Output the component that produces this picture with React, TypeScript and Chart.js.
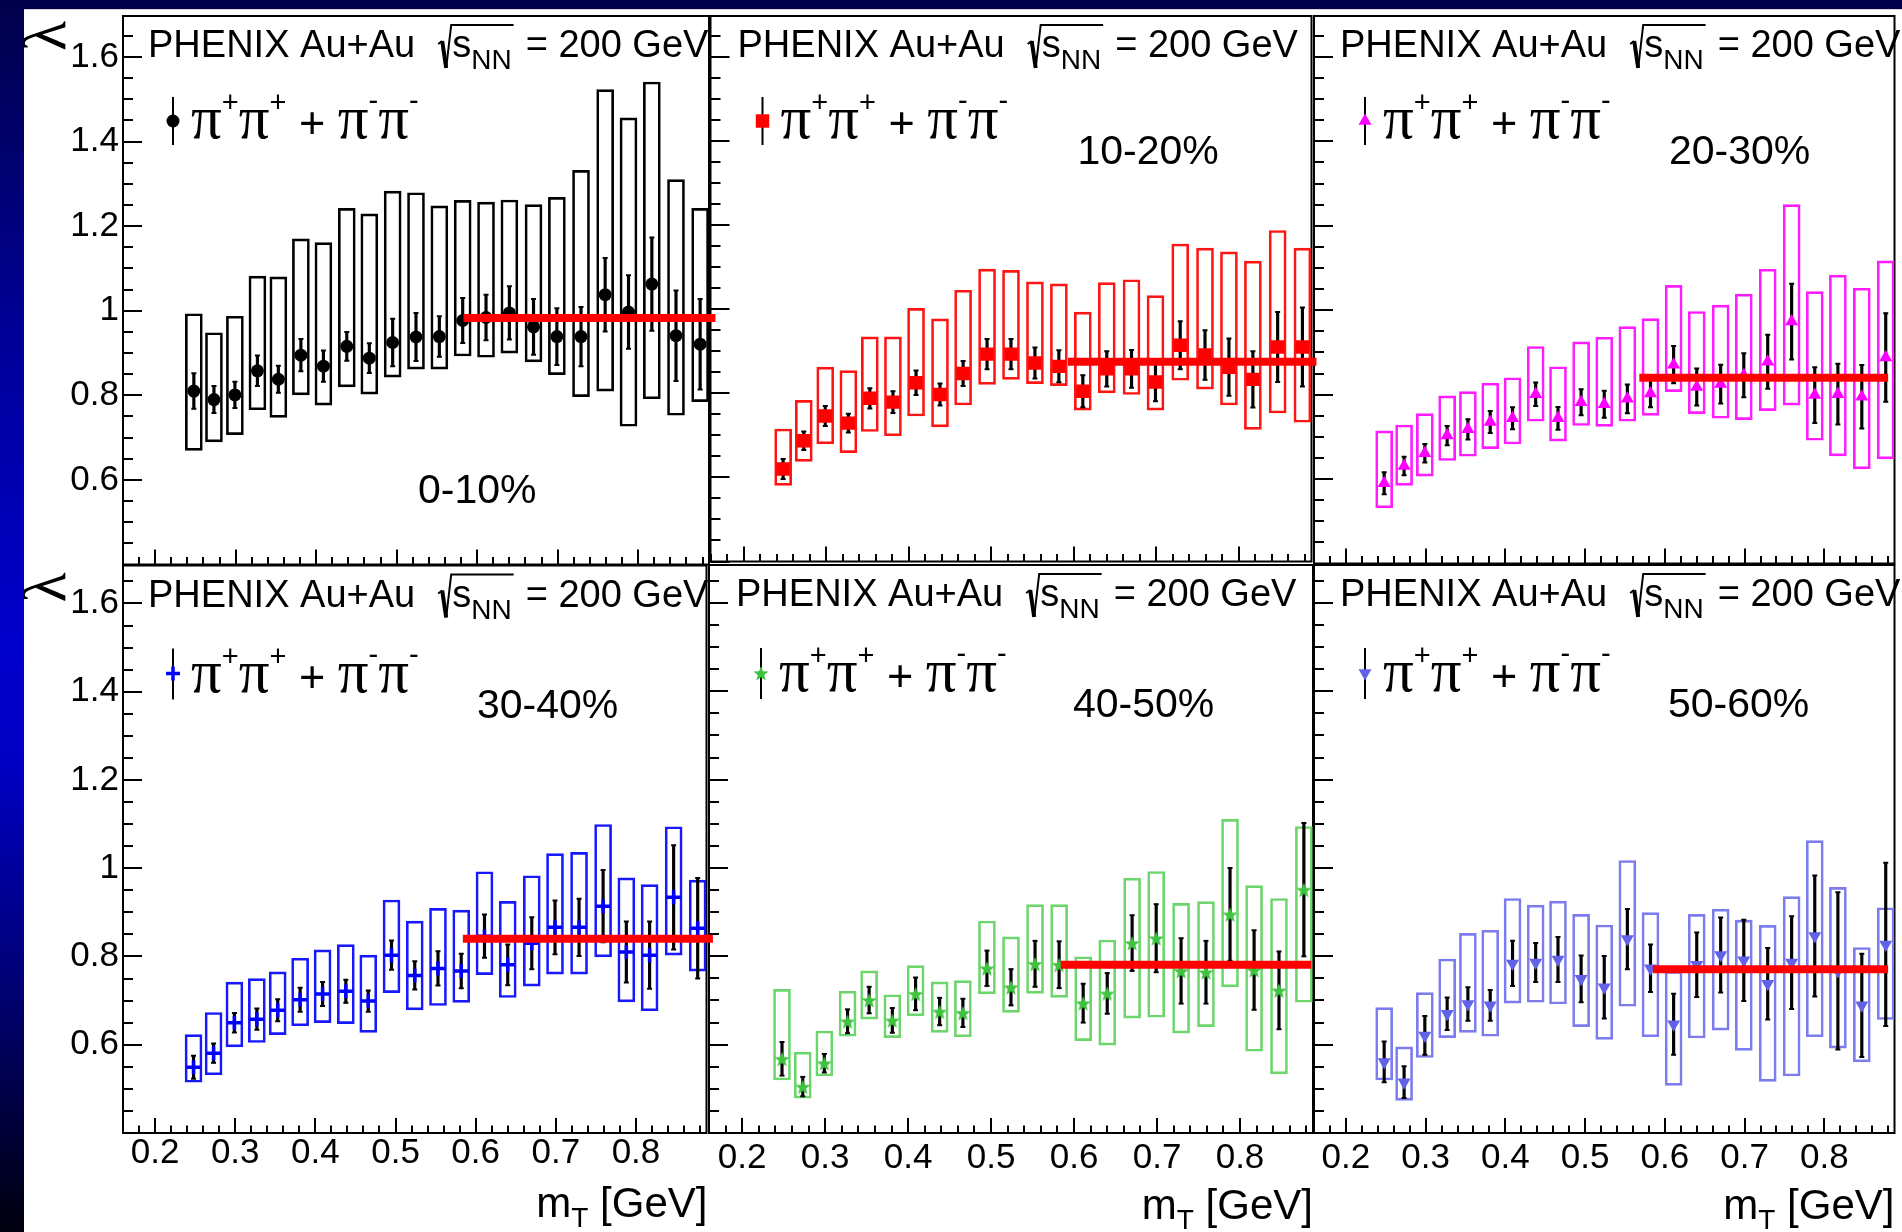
import React, { useEffect, useRef } from 'react';
import { Chart, registerables } from 'chart.js';

Chart.register(...registerables);
Chart.defaults.font.family = '"Liberation Sans", Arial, sans-serif';

// transverse-mass bin centres [GeV], shared by all centrality classes
const MT_GEV = [0.248, 0.273, 0.299, 0.327, 0.353, 0.381, 0.409, 0.438, 0.466, 0.495, 0.524, 0.553,
  0.582, 0.611, 0.640, 0.670, 0.699, 0.729, 0.759, 0.788, 0.817, 0.847, 0.877];

// 0-10 %
const LAMBDA_0_10 = [0.810, 0.790, 0.801, 0.858, 0.838, 0.895, 0.869, 0.916, 0.888, 0.925, 0.938, 0.939,
  0.977, 0.984, 0.995, 0.962, 0.939, 0.939, 1.038, 0.997, 1.063, 0.941, 0.921];
const STAT_0_10 = [0.042, 0.032, 0.031, 0.036, 0.032, 0.038, 0.037, 0.034, 0.035, 0.056, 0.057, 0.048,
  0.053, 0.054, 0.063, 0.066, 0.067, 0.070, 0.087, 0.087, 0.110, 0.107, 0.107];
const SYS_LOW_0_10 = [0.670, 0.690, 0.707, 0.766, 0.748, 0.801, 0.777, 0.820, 0.803, 0.843, 0.862, 0.862,
  0.893, 0.890, 0.900, 0.879, 0.849, 0.797, 0.810, 0.727, 0.792, 0.753, 0.785];
const SYS_HIGH_0_10 = [0.993, 0.948, 0.987, 1.082, 1.080, 1.170, 1.161, 1.242, 1.229, 1.283, 1.279, 1.248,
  1.261, 1.257, 1.262, 1.251, 1.268, 1.332, 1.523, 1.456, 1.541, 1.310, 1.242];

// 10-20 %
const LAMBDA_10_20 = [0.620, 0.687, 0.746, 0.729, 0.788, 0.779, 0.825, 0.797, 0.847, 0.893, 0.893, 0.872,
  0.864, 0.805, 0.858, 0.858, 0.827, 0.914, 0.891, 0.862, 0.833, 0.910, 0.910];
const STAT_10_20 = [0.024, 0.022, 0.024, 0.022, 0.024, 0.026, 0.029, 0.026, 0.030, 0.036, 0.036, 0.037,
  0.038, 0.038, 0.042, 0.045, 0.046, 0.057, 0.059, 0.068, 0.067, 0.083, 0.094];
const SYS_LOW_10_20 = [0.581, 0.638, 0.680, 0.659, 0.709, 0.699, 0.746, 0.720, 0.772, 0.821, 0.833, 0.823,
  0.818, 0.760, 0.801, 0.797, 0.760, 0.831, 0.810, 0.772, 0.714, 0.753, 0.731];
const SYS_HIGH_10_20 = [0.715, 0.783, 0.862, 0.854, 0.934, 0.934, 1.002, 0.977, 1.045, 1.095, 1.092, 1.065,
  1.060, 0.993, 1.063, 1.070, 1.032, 1.155, 1.145, 1.136, 1.114, 1.187, 1.145];

// 20-30 %
const LAMBDA_20_30 = [0.590, 0.631, 0.661, 0.703, 0.718, 0.735, 0.744, 0.801, 0.744, 0.782, 0.777, 0.790,
  0.803, 0.871, 0.818, 0.825, 0.846, 0.878, 0.973, 0.799, 0.801, 0.795, 0.888];
const STAT_20_30 = [0.026, 0.022, 0.022, 0.023, 0.024, 0.026, 0.026, 0.028, 0.027, 0.031, 0.032, 0.034,
  0.033, 0.044, 0.044, 0.046, 0.052, 0.064, 0.090, 0.066, 0.072, 0.075, 0.105];
const SYS_LOW_20_30 = [0.532, 0.585, 0.607, 0.644, 0.654, 0.672, 0.683, 0.737, 0.690, 0.727, 0.725, 0.737,
  0.751, 0.807, 0.755, 0.744, 0.741, 0.762, 0.775, 0.692, 0.655, 0.624, 0.648];
const SYS_HIGH_20_30 = [0.714, 0.728, 0.755, 0.797, 0.807, 0.827, 0.840, 0.914, 0.866, 0.925, 0.936, 0.961,
  0.980, 1.059, 0.997, 1.012, 1.038, 1.097, 1.250, 1.044, 1.083, 1.052, 1.117];

// 30-40 %
const LAMBDA_30_40 = [0.549, 0.581, 0.650, 0.658, 0.678, 0.702, 0.715, 0.721, 0.699, 0.803, 0.757, 0.773,
  0.767, 0.846, 0.781, 0.830, 0.866, 0.866, 0.914, 0.810, 0.803, 0.934, 0.864];
const STAT_30_40 = [0.026, 0.022, 0.022, 0.024, 0.025, 0.027, 0.027, 0.026, 0.024, 0.033, 0.032, 0.039,
  0.039, 0.049, 0.046, 0.059, 0.061, 0.065, 0.082, 0.069, 0.076, 0.118, 0.114];
const SYS_LOW_30_40 = [0.515, 0.532, 0.595, 0.605, 0.623, 0.643, 0.650, 0.648, 0.628, 0.718, 0.679, 0.689,
  0.696, 0.759, 0.707, 0.733, 0.760, 0.760, 0.799, 0.697, 0.677, 0.803, 0.767];
const SYS_HIGH_30_40 = [0.623, 0.673, 0.742, 0.750, 0.765, 0.796, 0.815, 0.827, 0.803, 0.928, 0.880, 0.909,
  0.905, 0.992, 0.925, 0.983, 1.033, 1.036, 1.099, 0.978, 0.963, 1.094, 0.973];

// 40-50 %
const LAMBDA_40_50 = [0.568, 0.505, 0.558, 0.653, 0.701, 0.655, 0.715, 0.675, 0.672, 0.773, 0.730, 0.783,
  0.781, 0.694, 0.716, 0.830, 0.841, 0.767, 0.764, 0.895, 0.769, 0.723, 0.951];
const STAT_40_50 = [0.038, 0.022, 0.021, 0.027, 0.030, 0.028, 0.037, 0.031, 0.032, 0.040, 0.041, 0.052,
  0.053, 0.044, 0.046, 0.063, 0.077, 0.074, 0.071, 0.105, 0.090, 0.088, 0.151];
const SYS_LOW_40_50 = [0.520, 0.479, 0.529, 0.619, 0.658, 0.616, 0.665, 0.628, 0.618, 0.715, 0.673, 0.716,
  0.707, 0.609, 0.599, 0.660, 0.662, 0.626, 0.641, 0.731, 0.585, 0.534, 0.696];
const SYS_HIGH_40_50 = [0.725, 0.583, 0.631, 0.721, 0.767, 0.713, 0.779, 0.742, 0.745, 0.880, 0.844, 0.917,
  0.917, 0.799, 0.837, 0.977, 0.992, 0.920, 0.924, 1.110, 0.960, 0.931, 1.094];

// 50-60 %
const LAMBDA_50_60 = [0.561, 0.515, 0.621, 0.670, 0.692, 0.689, 0.784, 0.786, 0.793, 0.749, 0.730, 0.839,
  0.773, 0.646, 0.781, 0.803, 0.791, 0.738, 0.786, 0.846, 0.767, 0.689, 0.827];
const STAT_50_60 = [0.046, 0.036, 0.044, 0.037, 0.038, 0.035, 0.051, 0.044, 0.051, 0.053, 0.071, 0.068,
  0.054, 0.069, 0.073, 0.085, 0.092, 0.081, 0.105, 0.137, 0.178, 0.117, 0.185];
const SYS_LOW_50_60 = [0.520, 0.474, 0.571, 0.616, 0.628, 0.619, 0.694, 0.696, 0.692, 0.641, 0.612, 0.687,
  0.618, 0.508, 0.615, 0.633, 0.587, 0.517, 0.529, 0.618, 0.592, 0.561, 0.657];
const SYS_HIGH_50_60 = [0.684, 0.595, 0.718, 0.794, 0.852, 0.859, 0.931, 0.916, 0.925, 0.895, 0.871, 1.017,
  0.899, 0.766, 0.895, 0.907, 0.882, 0.870, 0.935, 1.062, 0.956, 0.820, 0.910];

const CENTRALITY = ['0-10%', '10-20%', '20-30%', '30-40%', '40-50%', '50-60%'];

// constant fits of lambda over the high-mT range
const FIT_LAMBDA = [0.983, 0.875, 0.840, 0.840, 0.781, 0.771];
const FIT_MT_FROM = [0.583, 0.593, 0.568, 0.584, 0.584, 0.585];
const FIT_MT_TO = [0.896, 0.894, 0.880, 0.896, 0.886, 0.880];

const X_TICK_LABELS = [0.2, 0.3, 0.4, 0.5, 0.6, 0.7, 0.8];
const Y_TICK_LABELS = [0.6, 0.8, 1, 1.2, 1.4, 1.6];

const SERIES = [
  { lambda: LAMBDA_0_10, stat: STAT_0_10, sysLow: SYS_LOW_0_10, sysHigh: SYS_HIGH_0_10 },
  { lambda: LAMBDA_10_20, stat: STAT_10_20, sysLow: SYS_LOW_10_20, sysHigh: SYS_HIGH_10_20 },
  { lambda: LAMBDA_20_30, stat: STAT_20_30, sysLow: SYS_LOW_20_30, sysHigh: SYS_HIGH_20_30 },
  { lambda: LAMBDA_30_40, stat: STAT_30_40, sysLow: SYS_LOW_30_40, sysHigh: SYS_HIGH_30_40 },
  { lambda: LAMBDA_40_50, stat: STAT_40_50, sysLow: SYS_LOW_40_50, sysHigh: SYS_HIGH_40_50 },
  { lambda: LAMBDA_50_60, stat: STAT_50_60, sysLow: SYS_LOW_50_60, sysHigh: SYS_HIGH_50_60 },
];

// ---- presentation ----
const STYLE = [
  { marker: 'circle', color: '#000000', box: '#000000', radius: 6.5 },
  { marker: 'rect', color: '#ff0000', box: '#ff1414', radius: 9.5 },
  { marker: 'triangle', color: '#ff00ff', box: '#ff1cff', radius: 7.5 },
  { marker: 'cross', color: '#0000ff', box: '#1818ff', radius: 7 },
  { marker: 'star', color: '#3fc23f', box: '#6cd66c', radius: 8 },
  { marker: 'triangleDown', color: '#6262e6', box: '#7c7cee', radius: 7.5 },
];

type Frame = { l: number; t: number; r: number; b: number };
const FRAMES: Frame[] = [
  { l: 123, t: 16, r: 709, b: 565 },
  { l: 709, t: 16, r: 1313, b: 565 },
  { l: 1314, t: 16, r: 1899, b: 565 },
  { l: 123, t: 565, r: 709, b: 1133 },
  { l: 709, t: 565, r: 1313, b: 1133 },
  { l: 1314, t: 565, r: 1899, b: 1133 },
];
const Y_MAX = [1.697, 1.686];
const X_MIN = 0.16;
const X_MAX = 0.888;

const DECOR = [
  { titleDx: 25, legendDx: 50, textDx: 68, labelDx: 295, labelDy: 487 },
  { titleDx: 27, legendDx: 52, textDx: 70, labelDx: 367, labelDy: 148 },
  { titleDx: 26, legendDx: 51, textDx: 69, labelDx: 355, labelDy: 148 },
  { titleDx: 25, legendDx: 50, textDx: 68, labelDx: 354, labelDy: 152 },
  { titleDx: 27, legendDx: 52, textDx: 70, labelDx: 364, labelDy: 152 },
  { titleDx: 26, legendDx: 51, textDx: 69, labelDx: 354, labelDy: 152 },
];

const SANS = '"Liberation Sans", Arial, sans-serif';
const SERIF = '"Liberation Serif", "DejaVu Serif", serif';

const near = (a: number, b: number) => Math.abs(a - b) < 1e-6;
const fmt = (v: number) => String(Math.round(v * 10) / 10);

function canvasBox(i: number) {
  const f = FRAMES[i];
  const ml = i % 3 === 0 ? f.l - 24 : 8;
  const mr = i % 3 === 2 ? 1902 - f.r : 8;
  const mt = 10;
  const mb = i >= 3 ? 1232 - f.b : 6;
  return { x: f.l - ml, y: f.t - mt, w: f.r - f.l + ml + mr, h: f.b - f.t + mt + mb, ml, mr, mt, mb };
}

function makeStar(size: number, color: string) {
  const c = document.createElement('canvas');
  c.width = size;
  c.height = size;
  const g = c.getContext('2d')!;
  g.fillStyle = color;
  g.beginPath();
  for (let k = 0; k < 10; k++) {
    const r = k % 2 ? size * 0.21 : size * 0.5;
    const a = -Math.PI / 2 + (k * Math.PI) / 5;
    const px = size / 2 + r * Math.cos(a);
    const py = size / 2 + 1 + r * Math.sin(a);
    if (k === 0) g.moveTo(px, py);
    else g.lineTo(px, py);
  }
  g.closePath();
  g.fill();
  return c;
}

function drawMarker(ctx: CanvasRenderingContext2D, st: any, x: number, y: number, star: any) {
  const r = st.radius;
  ctx.save();
  ctx.fillStyle = st.color;
  ctx.strokeStyle = st.color;
  ctx.beginPath();
  if (st.marker === 'circle') {
    ctx.arc(x, y, r, 0, Math.PI * 2);
    ctx.fill();
  } else if (st.marker === 'rect') {
    const s = r * Math.SQRT1_2;
    ctx.fillRect(x - s, y - s, 2 * s, 2 * s);
  } else if (st.marker === 'triangle' || st.marker === 'triangleDown') {
    const sgn = st.marker === 'triangle' ? 1 : -1;
    ctx.moveTo(x, y - sgn * r);
    ctx.lineTo(x + r * 0.866, y + sgn * r * 0.5);
    ctx.lineTo(x - r * 0.866, y + sgn * r * 0.5);
    ctx.closePath();
    ctx.fill();
  } else if (st.marker === 'cross') {
    ctx.lineWidth = 3.5;
    ctx.moveTo(x - r, y);
    ctx.lineTo(x + r, y);
    ctx.moveTo(x, y - r);
    ctx.lineTo(x, y + r);
    ctx.stroke();
  } else if (st.marker === 'star') {
    ctx.drawImage(star, x - star.width / 2, y - star.height / 2);
  }
  ctx.restore();
}

function drawTitle(ctx: CanvasRenderingContext2D, x: number, y: number) {
  const big = `38px ${SANS}`;
  const sub = `28px ${SANS}`;
  ctx.font = big;
  ctx.fillText('PHENIX Au+Au', x, y);
  let cx = x + ctx.measureText('PHENIX Au+Au').width + 24;
  const sW = ctx.measureText('s').width;
  ctx.font = sub;
  const nnW = ctx.measureText('NN').width;
  // radical with overbar
  ctx.save();
  ctx.lineJoin = 'miter';
  ctx.lineWidth = 2;
  ctx.beginPath();
  ctx.moveTo(cx - 1, y - 13);
  ctx.lineTo(cx + 3, y - 16);
  ctx.stroke();
  ctx.lineWidth = 4;
  ctx.beginPath();
  ctx.moveTo(cx + 3, y - 16);
  ctx.lineTo(cx + 7, y + 11);
  ctx.stroke();
  ctx.lineWidth = 2;
  ctx.beginPath();
  ctx.moveTo(cx + 7, y + 11);
  ctx.lineTo(cx + 12, y - 32);
  ctx.lineTo(cx + 13 + sW + nnW + 2, y - 32);
  ctx.stroke();
  ctx.restore();
  cx += 13;
  ctx.font = big;
  ctx.fillText('s', cx, y);
  cx += sW;
  ctx.font = sub;
  ctx.fillText('NN', cx, y + 12);
  cx += nnW + 14;
  ctx.font = big;
  ctx.fillText('= 200 GeV', cx, y);
}

function drawPionText(ctx: CanvasRenderingContext2D, x: number, y: number) {
  const pi = `61px ${SERIF}`;
  const sup = `29px ${SANS}`;
  const main = `45px ${SANS}`;
  const parts: [string, string, number][] = [
    ['π', pi, 0], ['+', sup, -26], ['π', pi, 0], ['+', sup, -26], [' + ', main, 0],
    ['π', pi, 0], ['-', sup, -28], ['π', pi, 0], ['-', sup, -28],
  ];
  let cx = x;
  for (const [t, f, dy] of parts) {
    ctx.font = f;
    ctx.fillText(t, cx, y + dy);
    cx += ctx.measureText(t).width;
  }
}

function drawMtTitle(ctx: CanvasRenderingContext2D, xRight: number, y: number) {
  const big = `42px ${SANS}`;
  const sub = `28px ${SANS}`;
  ctx.font = big;
  const wm = ctx.measureText('m').width;
  const wr = ctx.measureText(' [GeV]').width;
  ctx.font = sub;
  const wt = ctx.measureText('T').width;
  let x = xRight - (wm + wt + wr);
  ctx.font = big;
  ctx.fillText('m', x, y);
  x += wm;
  ctx.font = sub;
  ctx.fillText('T', x, y + 10);
  x += wt;
  ctx.font = big;
  ctx.fillText(' [GeV]', x, y);
}

function decorPlugin(i: number, star: any) {
  const row = i >= 3 ? 1 : 0;
  const col = i % 3;
  const st = STYLE[i];
  const d = DECOR[i];
  return {
    id: 'panelDecor',
    beforeDatasetsDraw(chart: any) {
      const ctx: CanvasRenderingContext2D = chart.ctx;
      const { left, top, right, bottom } = chart.chartArea;
      const xs = chart.scales.x;
      const ys = chart.scales.y;
      ctx.save();
      ctx.strokeStyle = '#000';
      ctx.lineWidth = 2;
      ctx.beginPath();
      for (const t of xs.ticks) {
        const px = Math.round(xs.getPixelForValue(t.value));
        const major = near(t.value * 10, Math.round(t.value * 10));
        ctx.moveTo(px, bottom);
        ctx.lineTo(px, bottom - (major ? 15 : 7.5));
      }
      for (const t of ys.ticks) {
        const py = Math.round(ys.getPixelForValue(t.value));
        const major = near(t.value * 5, Math.round(t.value * 5));
        ctx.moveTo(left, py);
        ctx.lineTo(left + (major ? 19 : 10), py);
      }
      ctx.stroke();
      ctx.strokeRect(left, top, right - left, bottom - top);
      ctx.restore();
    },
    afterDatasetsDraw(chart: any) {
      const ctx: CanvasRenderingContext2D = chart.ctx;
      const { left, top, right, bottom } = chart.chartArea;
      ctx.save();
      ctx.fillStyle = '#000';
      ctx.strokeStyle = '#000';
      ctx.textAlign = 'left';
      ctx.textBaseline = 'alphabetic';

      drawTitle(ctx, left + d.titleDx, top + 41);

      // legend entry: marker with its error bar, then the pair label
      const my = top + (row ? 108 : 105);
      ctx.lineWidth = 2;
      ctx.beginPath();
      ctx.moveTo(left + d.legendDx, top + (row ? 83 : 81));
      ctx.lineTo(left + d.legendDx, top + (row ? 134 : 129));
      ctx.stroke();
      drawMarker(ctx, st, left + d.legendDx, my, star);
      ctx.fillStyle = '#000';
      drawPionText(ctx, left + d.textDx, top + (row ? 126 : 122));

      ctx.font = `41px ${SANS}`;
      ctx.fillText(CENTRALITY[i], left + d.labelDx, top + d.labelDy);

      if (col === 0) {
        ctx.save();
        ctx.translate(left - 74, top + (row ? 22 : 20));
        ctx.rotate(-Math.PI / 2);
        ctx.font = `62px ${SERIF}`;
        ctx.textAlign = 'center';
        ctx.textBaseline = 'middle';
        ctx.fillText('λ', 0, 0);
        ctx.restore();
      }
      if (row === 1) {
        drawMtTitle(ctx, right + (col === 0 ? 1 : 0), bottom + (col === 0 ? 84 : 86));
      }
      ctx.restore();
    },
  };
}

function buildConfig(i: number): any {
  const s = SERIES[i];
  const st = STYLE[i];
  const g = canvasBox(i);
  const row = i >= 3 ? 1 : 0;
  const col = i % 3;
  const star = makeStar(16, STYLE[4].color);

  const boxes = MT_GEV.map((x, k) => ({ x, y: [s.sysLow[k], s.sysHigh[k]] }));
  const statBars = MT_GEV.map((x, k) => ({ x, y: [s.lambda[k] - s.stat[k], s.lambda[k] + s.stat[k]] }));
  const caps = [
    ...MT_GEV.map((x, k) => ({ x, y: s.lambda[k] - s.stat[k] })),
    ...MT_GEV.map((x, k) => ({ x, y: s.lambda[k] + s.stat[k] })),
  ];
  const points = MT_GEV.map((x, k) => ({ x, y: s.lambda[k] }));
  const fit = [
    { x: FIT_MT_FROM[i], y: FIT_LAMBDA[i] },
    { x: FIT_MT_TO[i], y: FIT_LAMBDA[i] },
  ];

  const pointStyle = st.marker === 'star' ? star : st.marker === 'triangleDown' ? 'triangle' : st.marker;

  return {
    type: 'scatter',
    data: {
      datasets: [
        {
          type: 'line', data: fit, borderColor: '#ff0000', borderWidth: 8, pointRadius: 0,
          borderCapStyle: 'butt', clip: false, order: 0,
        },
        {
          type: 'scatter', data: points, pointStyle, pointRadius: st.radius,
          pointRotation: st.marker === 'triangleDown' ? 180 : 0,
          pointBackgroundColor: st.color, pointBorderColor: st.color,
          pointBorderWidth: st.marker === 'cross' ? 3.5 : 0, order: 1,
        },
        {
          type: 'scatter', data: caps, pointStyle: 'line', pointRadius: 2.5,
          pointBorderColor: '#000', pointBorderWidth: 2, order: 2,
        },
        {
          type: 'bar', data: statBars, backgroundColor: '#000', borderWidth: 0,
          barThickness: 2.5, grouped: false, order: 3,
        },
        {
          type: 'bar', data: boxes, backgroundColor: 'rgba(0,0,0,0)', borderColor: st.box,
          borderWidth: 2, borderSkipped: false, barThickness: 17, grouped: false, order: 4,
        },
      ],
    },
    options: {
      animation: false,
      responsive: false,
      devicePixelRatio: 1,
      events: [],
      layout: { padding: { left: 0, top: g.mt, right: g.mr, bottom: 0 } },
      plugins: { legend: { display: false }, tooltip: { enabled: false }, title: { display: false } },
      scales: {
        x: {
          type: 'linear', min: X_MIN, max: X_MAX, offset: false,
          grid: { display: false, drawTicks: false },
          border: { display: false },
          ticks: {
            display: row === 1, stepSize: 0.02, autoSkip: false, includeBounds: false,
            maxRotation: 0, minRotation: 0, color: '#000',
            padding: col === 0 ? 2.5 : 8,
            font: { family: SANS, size: 35, lineHeight: 1 },
            callback: (v: any) => (X_TICK_LABELS.some((t) => near(t, Number(v))) ? fmt(Number(v)) : ''),
          },
          afterFit: (sc: any) => {
            sc.height = g.mb;
            sc.paddingLeft = 0;
            sc.paddingRight = 0;
          },
        },
        y: {
          type: 'linear', min: 0.4, max: Y_MAX[row], beginAtZero: false,
          grid: { display: false, drawTicks: false },
          border: { display: false },
          ticks: {
            display: col === 0, stepSize: 0.05, autoSkip: false, includeBounds: false, color: '#000',
            padding: 4,
            font: { family: SANS, size: 35, lineHeight: 1 },
            callback: (v: any) => (Y_TICK_LABELS.some((t) => near(t, Number(v))) ? fmt(Number(v)) : ''),
          },
          afterFit: (sc: any) => {
            sc.width = g.ml;
            sc.paddingTop = 0;
            sc.paddingBottom = 0;
          },
        },
      },
    },
    plugins: [decorPlugin(i, star)],
  };
}

function Panel({ index }: { index: number }) {
  const ref = useRef<HTMLCanvasElement>(null);
  useEffect(() => {
    const chart = new Chart(ref.current as HTMLCanvasElement, buildConfig(index));
    return () => chart.destroy();
  }, [index]);
  const g = canvasBox(index);
  return (
    <canvas
      ref={ref}
      width={g.w}
      height={g.h}
      style={{ position: 'absolute', left: g.x, top: g.y, width: g.w, height: g.h, zIndex: 20 - index }}
    />
  );
}

export default function App() {
  return (
    <div
      style={{
        position: 'fixed', left: 0, top: 0, width: 1902, height: 1232, overflow: 'hidden',
        background: 'linear-gradient(180deg, #00004a 0%, #00009a 28%, #0000cc 52%, #0000c4 62%, #00006a 82%, #00000e 100%)',
      }}
    >
      <div style={{ position: 'absolute', left: 24, top: 9, right: 0, bottom: 0, background: '#ffffff', borderTop: '1px solid #d4d4d8' }} />
      {[0, 1, 2, 3, 4, 5].map((i) => (
        <Panel key={i} index={i} />
      ))}
    </div>
  );
}
